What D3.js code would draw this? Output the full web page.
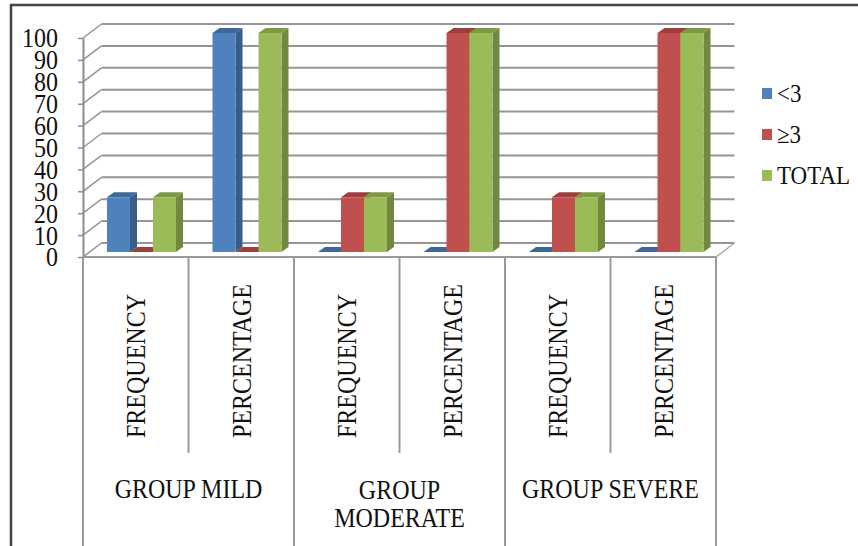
<!DOCTYPE html>
<html><head><meta charset="utf-8">
<script src="https://cdn.jsdelivr.net/npm/d3@7"></script>
<style>html,body{margin:0;padding:0;background:#fff;}svg{display:block;}</style>
</head><body>
<svg id="chart" width="858" height="546"></svg>
<script>
const groups = ["GROUP MILD", "GROUP MODERATE", "GROUP SEVERE"];
const groupLines = [["GROUP MILD"], ["GROUP", "MODERATE"], ["GROUP SEVERE"]];
const measures = ["FREQUENCY", "PERCENTAGE"];
const series = ["<3", "\u22653", "TOTAL"];
const lessThan3 = [25, 100, 0, 0, 0, 0];
const atLeast3 = [0, 0, 25, 100, 25, 100];
const total = [25, 100, 25, 100, 25, 100];
const yTicks = [0, 10, 20, 30, 40, 50, 60, 70, 80, 90, 100];

const colors = {
  "<3": {front: "#4F81BD", side: "#385D8A", top: "#3F6797"},
  "\u22653": {front: "#C0504D", side: "#8C3836", top: "#9B403D"},
  "TOTAL": {front: "#9BBB59", side: "#71893F", top: "#7E9A46"}
};
const seriesValues = [lessThan3, atLeast3, total];

const cats = [];
groups.forEach((g, gi) => measures.forEach((m, mi) => cats.push({key: gi + "-" + mi, group: g, gi, measure: m})));

const svg = d3.select("#chart");
const FONT = '"Liberation Serif", monospace';
const S = 1.1;

// frame
svg.append("line").attr("x1", 10).attr("x2", 858).attr("y1", 5).attr("y2", 5).attr("stroke", "#454545").attr("stroke-width", 2.5);
svg.append("line").attr("x1", 11).attr("x2", 11).attr("y1", 4).attr("y2", 546).attr("stroke", "#454545").attr("stroke-width", 2.5);

const left = 83, right = 716;
const y = d3.scaleLinear().domain([0, 100]).range([257, 38]);
const x0 = d3.scaleBand().domain(cats.map(c => c.key)).range([left, right]).paddingInner(0).paddingOuter(0);
const x1 = d3.scaleBand().domain(series).range([0, 69]).padding(0);

const DX = 18.5, DY = -14;   // wall depth
const BX = 6, BY = -5;       // bar front plane offset
const PX = 7, PY = -5;       // bar depth

const grid = svg.append("g");
const gridColor = "#959595";
yTicks.forEach(v => {
  grid.append("line").attr("x1", left + DX).attr("x2", right + DX)
    .attr("y1", y(v) + DY).attr("y2", y(v) + DY)
    .attr("stroke", gridColor).attr("stroke-width", 2);
  grid.append("line").attr("x1", left).attr("x2", left + DX)
    .attr("y1", y(v)).attr("y2", y(v) + DY)
    .attr("stroke", gridColor).attr("stroke-width", 1.5);
});
grid.append("line").attr("x1", right).attr("x2", right + DX).attr("y1", y(0)).attr("y2", y(0) + DY)
  .attr("stroke", "#aaa").attr("stroke-width", 1.5);

// bars
const barsG = svg.append("g");
cats.forEach((c, ci) => {
  series.forEach((s, si) => {
    const v = seriesValues[si][ci];
    const col = colors[s];
    const xl = x0(c.key) + 18 + x1(s) + BX;
    const w = x1.bandwidth();
    const yb = y(0) + BY;
    const yt = y(v) + BY;
    barsG.append("path").attr("d", `M${xl + w},${yb} L${xl + w + PX},${yb + PY} L${xl + w + PX},${yt + PY} L${xl + w},${yt} Z`).attr("fill", col.side);
    barsG.append("path").attr("d", `M${xl},${yt} L${xl + PX},${yt + PY} L${xl + w + PX},${yt + PY} L${xl + w},${yt} Z`).attr("fill", col.top);
    if (v > 0) barsG.append("rect").attr("x", xl).attr("y", yt).attr("width", w).attr("height", yb - yt).attr("fill", col.front);
  });
});

// y axis
const yAxis = svg.append("g").attr("transform", `translate(${left},0)`)
  .call(d3.axisLeft(y).tickValues(yTicks).tickSize(5).tickPadding(20).tickSizeOuter(0));
yAxis.attr("font-family", null).attr("font-size", null);
yAxis.select(".domain").attr("stroke", "#8c8c8c").attr("stroke-width", 2);
yAxis.selectAll(".tick line").attr("stroke", "#8c8c8c").attr("stroke-width", 1.5);
yAxis.selectAll(".tick text")
  .attr("x", null).attr("dy", "0.34em").attr("transform", `translate(-25,0) scale(1,${S})`)
  .style("font-family", FONT).attr("font-size", 24).attr("fill", "#111").attr("text-anchor", "end");

// category axis lines
const axisColor = "#9a9a9a";
svg.append("line").attr("x1", left).attr("x2", right).attr("y1", y(0)).attr("y2", y(0)).attr("stroke", axisColor).attr("stroke-width", 2);
cats.forEach((c, ci) => {
  const xs = x0(c.key);
  if (ci % 2 === 1) {
    svg.append("line").attr("x1", xs).attr("x2", xs).attr("y1", y(0)).attr("y2", 453).attr("stroke", axisColor).attr("stroke-width", 2);
  }
});
[0, 2, 4, 6].forEach(i => {
  const xs = i < 6 ? x0(cats[i].key) : right;
  svg.append("line").attr("x1", xs).attr("x2", xs).attr("y1", y(0)).attr("y2", 546).attr("stroke", axisColor).attr("stroke-width", 2);
});

// category labels
cats.forEach(c => {
  const cx = x0(c.key) + x0.bandwidth() / 2;
  svg.append("text").attr("transform", `translate(${cx + 9.5},438) rotate(-90) scale(1,${S})`)
    .style("font-family", FONT).attr("font-size", 24).attr("fill", "#111").attr("text-anchor", "start")
    .text(c.measure);
});

// group labels
groups.forEach((g, gi) => {
  const gx = (x0(cats[gi * 2].key) + x0(cats[gi * 2 + 1].key) + x0.bandwidth()) / 2;
  const lines = groupLines[gi];
  lines.forEach((ln, li) => {
    const by = lines.length === 1 ? 498 : 499 + li * 28;
    svg.append("text").attr("transform", `translate(${gx},${by}) scale(1,${S})`)
      .style("font-family", FONT).attr("font-size", 24).attr("fill", "#111").attr("text-anchor", "middle")
      .text(ln);
  });
});

// legend
const legend = svg.append("g");
series.forEach((s, i) => {
  const ly = 94 + i * 41;
  legend.append("rect").attr("x", 762).attr("y", ly - 6).attr("width", 10).attr("height", 11).attr("fill", colors[s].front);
  legend.append("text").attr("transform", `translate(777,${ly + 8}) scale(1,${S})`)
    .style("font-family", FONT).attr("font-size", 23).attr("fill", "#111").text(s);
});
</script>
</body></html>
